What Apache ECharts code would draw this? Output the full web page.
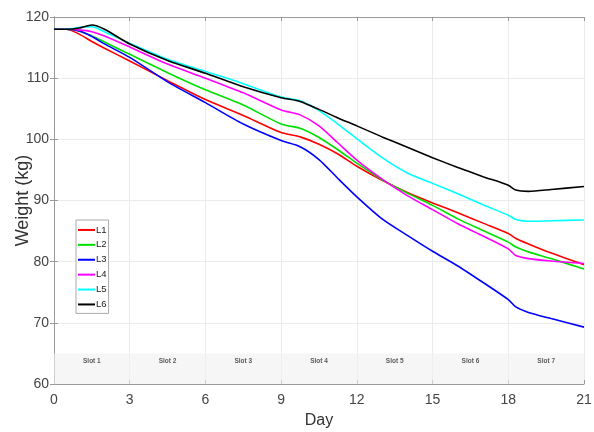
<!DOCTYPE html>
<html>
<head>
<meta charset="utf-8">
<script src="https://cdn.jsdelivr.net/npm/echarts@6/dist/echarts.min.js"></script>
<style>html,body{margin:0;padding:0;background:#fff}#c{width:594px;height:432px}</style>
</head>
<body>
<div id="c"></div>
<script>
const days = [0, 0.5, 1, 1.5, 2, 3, 4.5, 6, 7.5, 9, 9.75, 10.5, 11.25, 12, 13, 14, 15, 16, 17, 18, 18.3, 18.8, 19.7, 21];
const L1 = [118, 118, 117.2, 116.0, 114.9, 112.8, 109.6, 106.5, 103.9, 101.1, 100.4, 99.2, 97.6, 95.6, 93.3, 91.3, 89.6, 88.0, 86.3, 84.6, 83.8, 82.9, 81.4, 79.5];
const L2 = [118, 118, 117.7, 116.9, 115.9, 113.9, 110.9, 108.1, 105.6, 102.5, 101.8, 100.3, 98.3, 96.1, 93.4, 91.2, 89.2, 87.0, 85.1, 83.2, 82.4, 81.6, 80.5, 78.8];
const L3 = [118, 118, 117.7, 116.8, 115.6, 113.4, 109.4, 106.0, 102.5, 99.8, 98.8, 96.7, 93.6, 90.6, 87.0, 84.3, 81.7, 79.3, 76.6, 73.8, 72.6, 71.7, 70.7, 69.3];
const L4 = [118, 118, 117.9, 117.6, 116.9, 115.1, 112.3, 110.0, 107.6, 104.8, 104.0, 102.2, 99.4, 96.6, 93.5, 90.8, 88.5, 86.2, 84.2, 82.1, 81.0, 80.5, 80.1, 79.7];
const L5 = [118, 118, 118.3, 118.4, 117.6, 115.7, 113.1, 111.1, 109.1, 106.9, 106.3, 104.7, 102.5, 100.1, 97.0, 94.5, 92.8, 91.1, 89.3, 87.6, 86.9, 86.6, 86.7, 86.8];
const L6 = [118, 118, 118.2, 118.7, 118.0, 115.6, 112.9, 110.8, 108.6, 106.8, 106.2, 104.9, 103.5, 102.2, 100.4, 98.7, 97.0, 95.4, 93.9, 92.5, 91.7, 91.5, 91.8, 92.3];
const seriesNames = ['L1', 'L2', 'L3', 'L4', 'L5', 'L6'];
const seriesColors = ['#ff0000', '#00e000', '#0000ff', '#ff00ff', '#00ffff', '#000000'];
const slotNames = ['Slot 1', 'Slot 2', 'Slot 3', 'Slot 4', 'Slot 5', 'Slot 6', 'Slot 7'];
const slotCenters = [1.5, 4.5, 7.5, 10.5, 13.5, 16.5, 19.5];
const slotLabelY = 63.8;
const slotBand = [60, 65];
const xTicks = [0, 3, 6, 9, 12, 15, 18, 21];
const yTicks = [60, 70, 80, 90, 100, 110, 120];

const values = [L1, L2, L3, L4, L5, L6];
const chart = echarts.init(document.getElementById('c'));
const font = 'Liberation Sans, Arial, sans-serif';

const lineSeries = values.map((arr, k) => ({
  name: seriesNames[k],
  type: 'line',
  data: days.map((d, i) => [d, arr[i]]),
  smooth: 0.25,
  showSymbol: false,
  symbol: 'none',
  lineStyle: { width: 1.6, color: seriesColors[k] },
  itemStyle: { color: seriesColors[k] },
  z: 3 + k
}));

lineSeries[0].markArea = {
  silent: true,
  itemStyle: { color: 'rgba(240,240,240,0.6)' },
  data: [[{ xAxis: xTicks[0], yAxis: slotBand[0] }, { xAxis: xTicks[xTicks.length - 1], yAxis: slotBand[1] }]]
};

const slotSeries = {
  name: 'slots',
  type: 'scatter',
  symbolSize: 0,
  silent: true,
  data: slotCenters.map((c, i) => ({ value: [c, slotLabelY], name: slotNames[i] })),
  label: {
    show: true,
    position: 'inside',
    formatter: p => p.name,
    fontSize: 6.5,
    fontWeight: 'bold',
    color: '#333',
    fontFamily: font
  },
  z: 10
};

const axisCommonX = {
  type: 'value',
  min: xTicks[0],
  max: xTicks[xTicks.length - 1],
  interval: 3,
  axisLine: { show: true, lineStyle: { color: '#9a9a9a', width: 1 } },
  axisTick: { show: true, inside: true, length: 4, lineStyle: { color: '#9a9a9a' } }
};
const axisCommonY = {
  type: 'value',
  min: yTicks[0],
  max: yTicks[yTicks.length - 1],
  interval: 10,
  axisLine: { show: true, lineStyle: { color: '#9a9a9a', width: 1 } },
  axisTick: { show: true, inside: true, length: 4, lineStyle: { color: '#9a9a9a' } }
};

chart.setOption({
  animation: false,
  backgroundColor: '#fff',
  grid: { left: 54, right: 10, top: 17, bottom: 48, containLabel: false, outerBoundsMode: 'none' },
  legend: {
    data: seriesNames,
    orient: 'vertical',
    left: 76,
    top: 220,
    icon: 'rect',
    itemWidth: 17,
    itemHeight: 2,
    itemGap: 3,
    padding: [4, 2, 3, 2],
    borderColor: '#aaa',
    borderWidth: 1,
    backgroundColor: '#fff',
    textStyle: { fontSize: 9.5, color: '#222', fontFamily: font, lineHeight: 11.9, padding: [0, 0, 0, -4] }
  },
  xAxis: [
    Object.assign({}, axisCommonX, {
      position: 'bottom',
      name: 'Day',
      nameLocation: 'middle',
      nameGap: 29,
      nameMoveOverlap: false,
      nameTextStyle: { fontSize: 16, color: '#333', fontFamily: font },
      axisLabel: { fontSize: 14, color: '#444', fontFamily: font, margin: 9 },
      splitLine: { show: true, lineStyle: { color: '#ebebeb', width: 1 } }
    }),
    Object.assign({}, axisCommonX, {
      position: 'top',
      axisLabel: { show: false },
      splitLine: { show: false }
    })
  ],
  yAxis: [
    Object.assign({}, axisCommonY, {
      position: 'left',
      name: 'Weight (kg)',
      nameLocation: 'middle',
      nameGap: 22,
      nameMoveOverlap: false,
      nameTextStyle: { fontSize: 18, color: '#333', fontFamily: font },
      axisLabel: { fontSize: 14, color: '#444', fontFamily: font, margin: 5 },
      splitLine: { show: true, lineStyle: { color: '#ebebeb', width: 1 } }
    }),
    Object.assign({}, axisCommonY, {
      position: 'right',
      axisLabel: { show: false },
      splitLine: { show: false }
    })
  ],
  series: lineSeries.concat([slotSeries])
});
</script>
</body>
</html>
